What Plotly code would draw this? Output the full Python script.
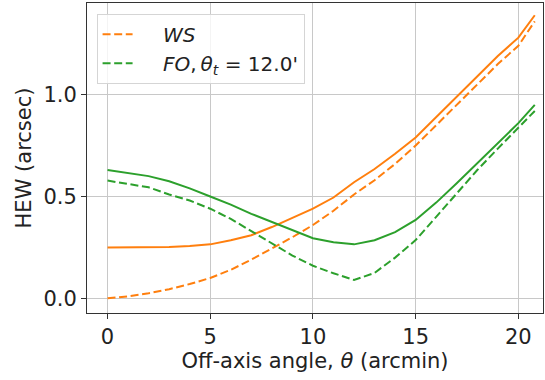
import plotly.graph_objects as go

theta = [0, 1, 2, 3, 4, 5, 6, 7, 8, 9, 10, 11, 12, 13, 14, 15, 16, 17, 18, 19, 20, 20.8]
ws_solid = [0.25, 0.25, 0.25, 0.252, 0.257, 0.265, 0.285, 0.31, 0.35, 0.395, 0.44, 0.495,
            0.57, 0.635, 0.71, 0.79, 0.89, 0.985, 1.09, 1.19, 1.28, 1.39]
ws_dashed = [0.0, 0.01, 0.025, 0.045, 0.07, 0.10, 0.14, 0.19, 0.245, 0.30, 0.36, 0.43,
             0.51, 0.58, 0.66, 0.75, 0.85, 0.95, 1.05, 1.15, 1.24, 1.36]
fo_solid = [0.63, 0.615, 0.60, 0.575, 0.54, 0.50, 0.46, 0.415, 0.375, 0.335, 0.295, 0.275,
            0.265, 0.285, 0.325, 0.385, 0.47, 0.565, 0.665, 0.765, 0.86, 0.95]
fo_dashed = [0.578, 0.56, 0.545, 0.51, 0.48, 0.44, 0.39, 0.33, 0.27, 0.21, 0.16, 0.123,
             0.09, 0.125, 0.20, 0.286, 0.40, 0.515, 0.63, 0.735, 0.84, 0.92]

ORANGE = "#ff7f0e"
GREEN = "#2ca02c"
DASH = "8px,3.6px"
FONT = "DejaVu Sans"
PAD = "\u00a0" * 4

fig = go.Figure()
fig.add_trace(go.Scatter(x=theta, y=ws_dashed, mode="lines", name=PAD + "<i>WS</i>",
                         line=dict(color=ORANGE, width=2, dash=DASH)))
fig.add_trace(go.Scatter(x=theta, y=ws_solid, mode="lines", showlegend=False,
                         line=dict(color=ORANGE, width=2)))
fig.add_trace(go.Scatter(x=theta, y=fo_dashed, mode="lines",
                         name=PAD + "<i>FO</i>,\u2009<i>θ</i><sub><i>t</i></sub> = 12.0'",
                         line=dict(color=GREEN, width=2, dash=DASH)))
fig.add_trace(go.Scatter(x=theta, y=fo_solid, mode="lines", showlegend=False,
                         line=dict(color=GREEN, width=2)))

axis_common = dict(showgrid=True, gridcolor="#c8c8c8", gridwidth=1,
                   showline=True, linecolor="#333333", linewidth=1, mirror=True,
                   ticks="outside", ticklen=5, tickcolor="#333333",
                   tickfont=dict(family=FONT, size=21, color="#222222"),
                   zeroline=False, automargin=False)

fig.update_layout(
    width=545, height=380,
    margin=dict(l=87, r=2, t=3, b=67),
    paper_bgcolor="white", plot_bgcolor="white",
    font=dict(family=FONT, color="#222222"),
    xaxis=dict(range=[-1.0, 21.2], tickvals=[0, 5, 10, 15, 20],
               title=dict(text="Off-axis angle, <i>θ</i> (arcmin)",
                          font=dict(family=FONT, size=21), standoff=4),
               **axis_common),
    yaxis=dict(range=[-0.072, 1.45], tickvals=[0.0, 0.5, 1.0], tickformat=".1f",
               title=dict(text="HEW (arcsec)", font=dict(family=FONT, size=21), standoff=6),
               **axis_common),
    legend=dict(x=0.021, y=0.965, xanchor="left", yanchor="top",
                bgcolor="rgba(255,255,255,0.8)", bordercolor="#d5d5d5", borderwidth=1,
                font=dict(family=FONT, size=20, color="#222222")),
)

fig.write_html("out.html", config={"displayModeBar": False},
               post_script="document.body.style.margin='0px';")
